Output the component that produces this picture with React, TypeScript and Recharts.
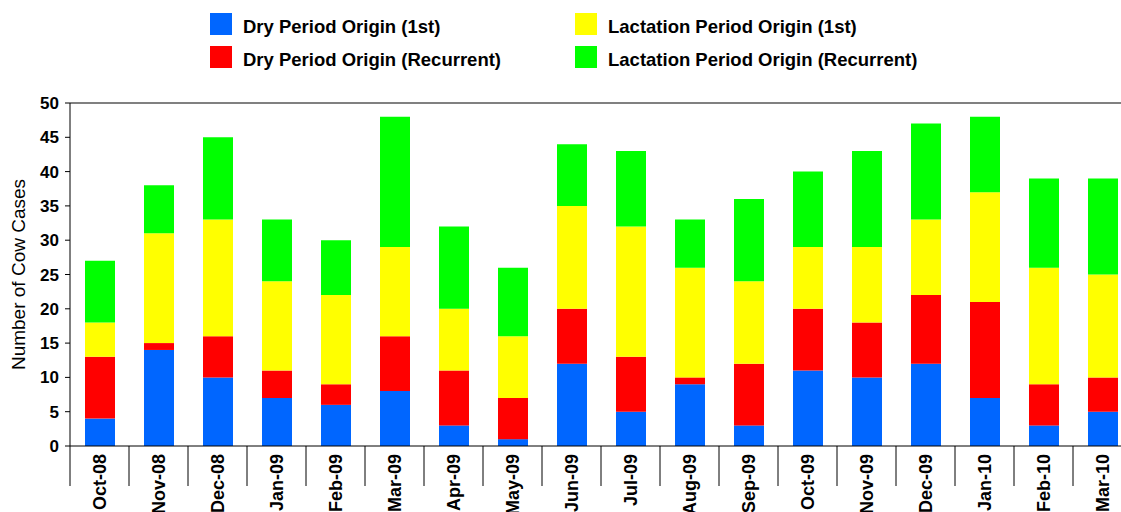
import React from "react"
import {
  BarChart,
  Bar,
  XAxis,
  YAxis,
  ReferenceLine,
  Label,
} from "recharts"

// data
const categories = [
  "Oct-08", "Nov-08", "Dec-08", "Jan-09", "Feb-09", "Mar-09",
  "Apr-09", "May-09", "Jun-09", "Jul-09", "Aug-09", "Sep-09",
  "Oct-09", "Nov-09", "Dec-09", "Jan-10", "Feb-10", "Mar-10",
]
const dryFirst = [4, 14, 10, 7, 6, 8, 3, 1, 12, 5, 9, 3, 11, 10, 12, 7, 3, 5]
const dryRecurrent = [9, 1, 6, 4, 3, 8, 8, 6, 8, 8, 1, 9, 9, 8, 10, 14, 6, 5]
const lactFirst = [5, 16, 17, 13, 13, 13, 9, 9, 15, 19, 16, 12, 9, 11, 11, 16, 17, 15]
const lactRecurrent = [9, 7, 12, 9, 8, 19, 12, 10, 9, 11, 7, 12, 11, 14, 14, 11, 13, 14]
const yTicks = [0, 5, 10, 15, 20, 25, 30, 35, 40, 45, 50]

const series = [
  { key: "dryFirst", name: "Dry Period Origin (1st)", color: "#0066ff", values: dryFirst },
  { key: "dryRecurrent", name: "Dry Period Origin (Recurrent)", color: "#ff0000", values: dryRecurrent },
  { key: "lactFirst", name: "Lactation Period Origin (1st)", color: "#ffff00", values: lactFirst },
  { key: "lactRecurrent", name: "Lactation Period Origin (Recurrent)", color: "#00ff00", values: lactRecurrent },
]

const data = categories.map((month, i) => {
  const row: Record<string, string | number> = { month }
  series.forEach((s) => (row[s.key] = s.values[i]))
  return row
})

const FONT = "'Liberation Sans', Arial, sans-serif"
const CHART_W = 1132
const CHART_H = 512
const Y_AXIS_W = 70
const X_AXIS_H = 66
const PLOT_W = CHART_W - Y_AXIS_W
const BAND = PLOT_W / categories.length

// month label + divider on the left edge of each band
const MonthTick = (props: any) => {
  const { x, y, payload } = props
  const left = x - BAND / 2
  return (
    <g>
      <line x1={left} y1={y} x2={left} y2={y + 40} stroke="#000" strokeWidth={1} />
      <text
        x={x}
        y={y + 8}
        transform={`rotate(-90, ${x}, ${y + 8})`}
        textAnchor="end"
        dominantBaseline="central"
        fontFamily={FONT}
        fontWeight="bold"
        fontSize={18}
        fill="#000"
      >
        {payload.value}
      </text>
    </g>
  )
}

const legendPos = [
  { left: 210, top: 13 },
  { left: 210, top: 46 },
  { left: 575, top: 13 },
  { left: 575, top: 46 },
]

export default function App() {
  return (
    <div
      style={{
        position: "fixed",
        left: 0,
        top: 0,
        width: 1121,
        height: 512,
        overflow: "hidden",
        background: "#fff",
        fontFamily: FONT,
      }}
    >
      {/* legend */}
      {series.map((s, i) => (
        <div
          key={s.key}
          style={{
            position: "absolute",
            left: legendPos[i].left,
            top: legendPos[i].top,
            height: 22,
            display: "flex",
            alignItems: "center",
            whiteSpace: "nowrap",
          }}
        >
          <span style={{ width: 22, height: 22, background: s.color, display: "inline-block" }} />
          <span
            style={{
              marginLeft: 11,
              fontSize: 18.5,
              fontWeight: "bold",
              color: "#000",
              position: "relative",
              top: 3,
            }}
          >
            {s.name}
          </span>
        </div>
      ))}

      <div style={{ position: "absolute", left: 0, top: 0 }}>
        <BarChart
          width={CHART_W}
          height={CHART_H}
          data={data}
          margin={{ top: 103, right: 0, bottom: 0, left: 0 }}
          barSize={30}
        >
          <ReferenceLine y={50} stroke="#808080" strokeWidth={2} />
          <XAxis
            dataKey="month"
            height={X_AXIS_H}
            interval={0}
            axisLine={{ stroke: "#000" }}
            tickLine={false}
            tickSize={0}
            tickMargin={0}
            tick={<MonthTick />}
          />
          <YAxis
            width={Y_AXIS_W}
            domain={[0, 50]}
            ticks={yTicks}
            interval={0}
            axisLine={{ stroke: "#000" }}
            tickLine={{ stroke: "#000" }}
            tickSize={5}
            tickMargin={6}
            tick={{ fill: "#000", fontSize: 17, fontWeight: "bold", fontFamily: FONT }}
          >
            <Label
              content={(p: any) => {
                const vb = p.viewBox || {}
                const cx = 18
                const cy = (vb.y ?? 103) + (vb.height ?? 343) / 2
                return (
                  <text
                    x={cx}
                    y={cy}
                    transform={`rotate(-90, ${cx}, ${cy})`}
                    textAnchor="middle"
                    dominantBaseline="central"
                    fontFamily={FONT}
                    fontSize={19}
                    fill="#000"
                  >
                    Number of Cow Cases
                  </text>
                )
              }}
            />
          </YAxis>
          {series.map((s) => (
            <Bar
              key={s.key}
              dataKey={s.key}
              name={s.name}
              stackId="cases"
              fill={s.color}
              isAnimationActive={false}
            />
          ))}
        </BarChart>
      </div>
    </div>
  )
}
